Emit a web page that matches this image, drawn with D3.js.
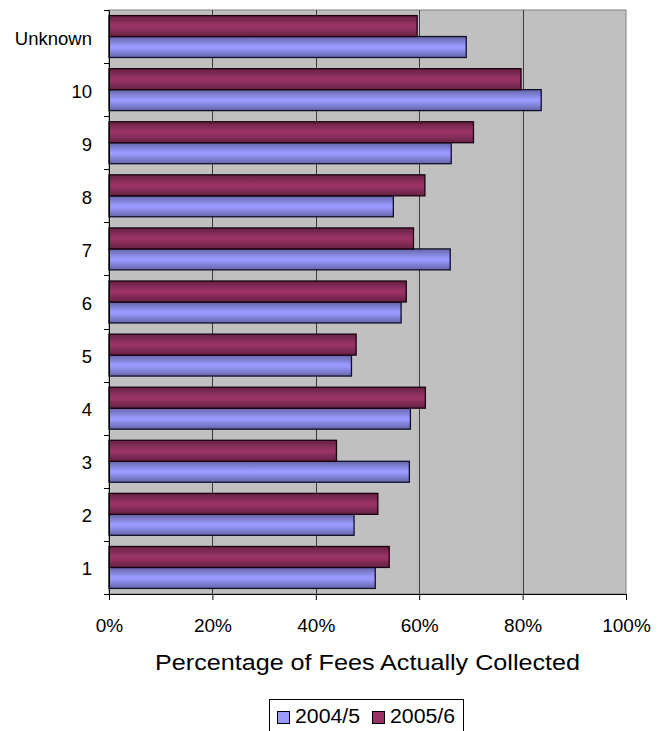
<!DOCTYPE html>
<html><head><meta charset="utf-8">
<script src="https://cdn.jsdelivr.net/npm/d3@7"></script>
<style>body{margin:0;background:#fff;overflow:hidden}svg{display:block;font-family:"Liberation Sans",Arial,sans-serif}</style>
</head><body>
<script>
const categories = ["1","2","3","4","5","6","7","8","9","10","Unknown"];
const seriesNames = ["2004/5","2005/6"];
const values2004 = [51.5, 47.4, 58.1, 58.3, 46.9, 56.5, 66.0, 55.0, 66.2, 83.6, 69.1];
const values2005 = [54.2, 52.0, 44.0, 61.2, 47.8, 57.5, 58.9, 61.1, 70.5, 79.7, 59.6];
const xTicks = [0, 20, 40, 60, 80, 100];
const colors = ["#9999ff", "#993366"];

const W = 671, H = 731;
const m = {left:109, right:626, top:10, bottom:594};
const FF = "Liberation Sans, Arial, sans-serif";
const svg = d3.select("body").append("svg").attr("width", W).attr("height", H);
const defs = svg.append("defs");
function grad(id, c){
  const g = defs.append("linearGradient").attr("id", id).attr("x1",0).attr("x2",0).attr("y1",0).attr("y2",1);
  const base = d3.color(c);
  g.append("stop").attr("offset","0%").attr("stop-color", base.darker(1.2));
  g.append("stop").attr("offset","45%").attr("stop-color", base);
  g.append("stop").attr("offset","55%").attr("stop-color", base);
  g.append("stop").attr("offset","100%").attr("stop-color", base.darker(1.2));
}
grad("g0", colors[0]); grad("g1", colors[1]);

const x = d3.scaleLinear().domain([0,100]).range([m.left, m.right]);
const y = d3.scaleBand().domain(categories.slice().reverse()).range([m.top, m.bottom]).padding(0);
const bw = y.bandwidth();
const ys = d3.scaleBand().domain(["2005/6","2004/5"]).range([bw*0.105, bw*0.895]).padding(0);

svg.append("rect").attr("x", m.left).attr("y", m.top).attr("width", m.right-m.left).attr("height", m.bottom-m.top)
  .attr("fill","#c0c0c0").attr("stroke","#808080").attr("stroke-width",1);

// gridlines
svg.append("g").selectAll("line").data(xTicks.slice(1,-1)).join("line")
  .attr("x1", d=>Math.round(x(d))+0.5).attr("x2", d=>Math.round(x(d))+0.5)
  .attr("y1", m.top).attr("y2", m.bottom).attr("stroke","#3a3a3a").attr("stroke-width",1);

const data = [];
categories.forEach((c,i)=>{
  data.push({cat:c, s:"2004/5", v:values2004[i], k:0});
  data.push({cat:c, s:"2005/6", v:values2005[i], k:1});
});
svg.append("g").selectAll("rect").data(data).join("rect")
  .attr("x", x(0)).attr("y", d=>y(d.cat)+ys(d.s))
  .attr("width", d=>x(d.v)-x(0)).attr("height", ys.bandwidth())
  .attr("fill", d=>`url(#g${d.k})`).attr("stroke", d=>d.k? "#1a0010":"#10102a").attr("stroke-width",1.3);

// x axis
const xa = svg.append("g").attr("transform",`translate(0,${m.bottom})`)
  .call(d3.axisBottom(x).tickValues(xTicks).tickFormat(d=>d+"%").tickSize(6).tickSizeOuter(0));
xa.select(".domain").attr("stroke","#000");
xa.selectAll(".tick line").attr("stroke","#000");
xa.selectAll("text").attr("font-size",19).attr("fill","#000").attr("dy",null).attr("y",38).attr("font-family",FF);

// y axis
const ya = svg.append("g").attr("transform",`translate(${m.left},0)`)
  .call(d3.axisLeft(y).tickSize(0).tickPadding(17));
ya.select(".domain").attr("stroke","#000");
ya.selectAll("text").attr("font-size",18.5).attr("fill","#000").attr("dy",null).attr("y",8).attr("font-family",FF);
// tick marks at band boundaries
const bounds = categories.map(c=>y(c)).concat([m.bottom]);
svg.append("g").selectAll("line").data(bounds).join("line")
  .attr("x1", m.left-5).attr("x2", m.left).attr("y1", d=>Math.round(d)+0.5).attr("y2", d=>Math.round(d)+0.5)
  .attr("stroke","#000");

svg.append("text").attr("x", (m.left+m.right)/2).attr("y", 670).attr("text-anchor","middle")
  .attr("font-size",22).attr("fill","#000").attr("textLength",425).attr("lengthAdjust","spacingAndGlyphs")
  .text("Percentage of Fees Actually Collected");

// legend
const lg = svg.append("g");
lg.append("rect").attr("x",269.5).attr("y",699.5).attr("width",194).attr("height",40).attr("fill","#fff").attr("stroke","#000");
const items = [{n:seriesNames[0], c:colors[0], x:277},{n:seriesNames[1], c:colors[1], x:372}];
items.forEach(it=>{
  lg.append("rect").attr("x",it.x+0.5).attr("y",711.5).attr("width",12).attr("height",12).attr("fill",it.c).attr("stroke","#000");
  lg.append("text").attr("x",it.x+18).attr("y",723).attr("font-size",20).attr("fill","#000")
    .attr("textLength",65).attr("lengthAdjust","spacingAndGlyphs").text(it.n);
});
</script>
</body></html>
